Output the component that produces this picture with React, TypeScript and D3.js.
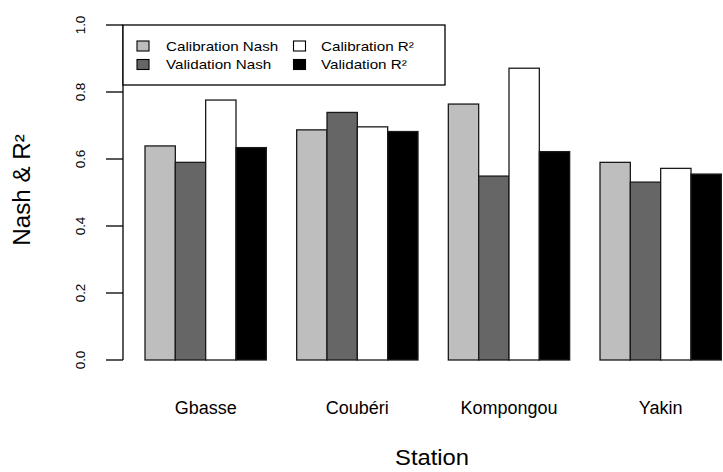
import React from "react";
import * as d3 from "d3";

// Stations and goodness-of-fit scores
const stations = ["Gbasse", "Coubéri", "Kompongou", "Yakin"];
const seriesNames = ["Calibration Nash", "Validation Nash", "Calibration R²", "Validation R²"];
const calibrationNash = [0.639, 0.687, 0.764, 0.59];
const validationNash = [0.59, 0.739, 0.549, 0.531];
const calibrationR2 = [0.776, 0.696, 0.871, 0.572];
const validationR2 = [0.634, 0.682, 0.622, 0.555];
const yTicks = [0, 0.2, 0.4, 0.6, 0.8, 1.0];

const fills = ["#bebebe", "#666666", "#ffffff", "#000000"];
const FONT = "'Liberation Sans', Arial, sans-serif";

const W = 723;
const H = 472;

// Text stretched horizontally along its reading direction
function SText({ x, y, size, sx = 1, rotate = 0, anchor = "middle", children }: any) {
  return (
    <g transform={`translate(${x},${y}) rotate(${rotate}) scale(${sx},1)`}>
      <text x={0} y={0} fontSize={size} fontFamily={FONT} textAnchor={anchor} fill="#000">
        {children}
      </text>
    </g>
  );
}

export default function App() {
  const series = [calibrationNash, validationNash, calibrationR2, validationR2];

  // bar slots: group g, bar i sits at unit g*5 + 1 + i (one empty unit between groups)
  const x = d3.scaleLinear().domain([1, 16]).range([145, 600]);
  const unit = x(2) - x(1);
  const y = d3.scaleLinear().domain([0, 1]).range([360, 25]);
  const axisX = 123;

  const bars: any[] = [];
  stations.forEach((_, g) => {
    series.forEach((vals, i) => {
      const left = x(g * 5 + 1 + i);
      bars.push({ key: `${g}-${i}`, x: left, y: y(vals[g]), h: y(0) - y(vals[g]), fill: fills[i] });
    });
  });

  const legendItems = seriesNames.map((name, i) => ({
    name,
    fill: fills[i],
    col: i < 2 ? 0 : 1,
    row: i % 2,
  }));
  const colSwatchX = [137, 293.5];
  const colTextX = [166, 321];
  const rowY = [46, 64.5];

  return (
    <svg
      width={W}
      height={H}
      style={{ position: "fixed", left: 0, top: 0, background: "#fff" }}
      viewBox={`0 0 ${W} ${H}`}
    >
      <rect x={0} y={0} width={W} height={H} fill="#fff" />

      {/* bars */}
      {bars.map((b) => (
        <rect
          key={b.key}
          x={b.x}
          y={b.y}
          width={unit}
          height={b.h}
          fill={b.fill}
          stroke="#1a1a1a"
          strokeWidth={1.3}
        />
      ))}

      {/* y axis */}
      <line x1={axisX} x2={axisX} y1={y(0)} y2={y(1)} stroke="#000" strokeWidth={1.3} />
      {yTicks.map((t) => (
        <g key={t}>
          <line x1={106} x2={axisX} y1={y(t)} y2={y(t)} stroke="#000" strokeWidth={1.3} />
          <SText x={84.5} y={y(t)} size={12} sx={1.12} rotate={-90}>
            {t.toFixed(1)}
          </SText>
        </g>
      ))}

      {/* legend */}
      <rect x={axisX} y={y(1)} width={445 - axisX} height={85 - y(1)} fill="#fff" stroke="#000" strokeWidth={1.3} />
      {legendItems.map((it) => (
        <g key={it.name}>
          <rect
            x={colSwatchX[it.col]}
            y={rowY[it.row] - 5}
            width={12}
            height={10}
            fill={it.fill}
            stroke="#000"
            strokeWidth={1.1}
          />
          <SText x={colTextX[it.col]} y={rowY[it.row] + 4.5} size={13} sx={1.17} anchor="start">
            {it.name}
          </SText>
        </g>
      ))}

      {/* category labels */}
      {stations.map((s, g) => (
        <SText key={s} x={(x(g * 5 + 1) + x(g * 5 + 5)) / 2} y={414} size={18}>
          {s}
        </SText>
      ))}

      {/* axis titles */}
      <SText x={432} y={465} size={22} sx={1.08}>
        Station
      </SText>
      <SText x={30} y={190} size={23} sx={1.05} rotate={-90}>
        Nash &amp; R²
      </SText>
    </svg>
  );
}
